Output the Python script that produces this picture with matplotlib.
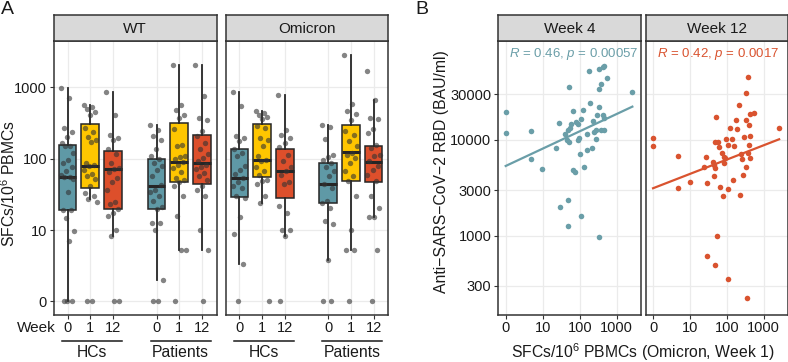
import numpy as np
import matplotlib
matplotlib.use('Agg')
import matplotlib.pyplot as plt
from matplotlib.ticker import NullLocator, FixedLocator
from matplotlib.transforms import blended_transform_factory as btf

plt.rcParams['font.family'] = ['Liberation Sans', 'DejaVu Sans']
plt.rcParams['mathtext.fontset'] = 'custom'
plt.rcParams['mathtext.rm'] = 'Liberation Sans'
plt.rcParams['mathtext.it'] = 'Liberation Sans:italic'

# ---------------- data: panel A ----------------
variants = ['WT', 'Omicron']
groups = ['HCs', 'Patients']
weeks = ['0', '1', '12']

# SFCs/10^6 PBMCs, one list per (variant, group, week)
wt_hc_w0 = [985, 713, 271, 236, 203, 167, 152, 150, 121, 97, 88, 77, 68, 60, 56, 55, 52, 34, 19, 19, 15, 9.7, 7.1, 0, 0, 0]
wt_hc_w1 = [574, 532, 499, 448, 415, 271, 236, 200, 185, 171, 88, 81, 78, 70, 62, 57, 52, 42, 33, 30, 27, 25, 0, 0]
wt_hc_w12 = [865, 415, 218, 196, 182, 135, 115, 87, 75, 71, 66, 54, 47, 37, 25, 23, 20, 17.5, 15.7, 10.2, 8.2, 0, 0]
wt_pt_w0 = [301, 257, 211, 185, 135, 111, 98, 88, 78, 70, 58, 43, 37, 34, 30, 26, 21, 20, 12.6, 12.4, 10.2, 2.0, 0, 0]
wt_pt_w1 = [2085, 574, 489, 415, 372, 261, 158, 150, 111, 105, 98, 90, 83, 75, 66, 54, 51, 47, 42, 30, 15.7, 5.35, 5.35, 0]
wt_pt_w12 = [2050, 751, 372, 346, 243, 207, 167, 135, 115, 103, 92, 83, 77, 71, 64, 58, 51, 42, 37, 30, 10.2, 5.35, 0]
om_hc_w0 = [855, 556, 207, 196, 176, 135, 121, 109, 80, 70, 62, 54, 48, 41, 39, 30, 28.4, 15.2, 8.7, 3.4, 0]
om_hc_w1 = [462, 445, 416, 390, 366, 289, 270, 196, 186, 150, 109, 97.5, 92, 76, 67, 60, 51, 48.5, 44, 30, 24, 0]
om_hc_w12 = [790, 257, 218, 196, 165, 145, 113, 92, 76, 67, 60, 47, 44, 22, 17.5, 10.2, 10, 8.2, 0]
om_pt_w0 = [302, 275, 189, 113, 105, 97.5, 87.5, 76, 67, 57, 45, 39, 25.6, 24, 20.5, 13.3, 12.3, 3.8, 0, 0]
om_pt_w1 = [2880, 593, 462, 430, 354, 243, 218, 176, 150, 121, 113, 103, 87.5, 67, 57, 48.5, 30.5, 10, 5.2, 5.2, 0]
om_pt_w12 = [1720, 674, 375, 366, 262, 230, 158, 142, 113, 109, 92, 80, 70, 60, 48.5, 30, 20.5, 15.4, 15.4, 5.2, 0]

# box statistics: (whisker low, Q1, median, Q3, whisker high)
wt_box = [[0, 19.2, 56, 155, 985], [27, 39, 80, 308, 575], [8.2, 20, 71, 129, 865],
          [2.0, 20, 41, 100, 301], [5.35, 48, 91, 317, 2085], [5.35, 45, 86, 214, 2050]]
om_box = [[3.4, 29.6, 54, 135, 855], [24, 56, 97, 304, 462], [8.2, 28.6, 68, 135, 790],
          [3.8, 23.8, 45, 86, 302], [5.2, 49, 124, 299, 2880], [15.4, 47.5, 91, 150, 674]]

points_A = {
    'WT': [wt_hc_w0, wt_hc_w1, wt_hc_w12, wt_pt_w0, wt_pt_w1, wt_pt_w12],
    'Omicron': [om_hc_w0, om_hc_w1, om_hc_w12, om_pt_w0, om_pt_w1, om_pt_w12],
}
boxes_A = {'WT': wt_box, 'Omicron': om_box}
yticks_A = [0, 10, 100, 1000]

# ---------------- data: panel B ----------------
facets_B = ['Week 4', 'Week 12']
w4_x = [0, 0, 4.9, 4.9, 9.6, 22.9, 27.6, 28.8, 48, 47, 50, 39, 45, 47, 54, 58, 65, 65, 76, 80, 90, 88, 94, 107, 104,
        108, 123, 134, 154, 161, 175, 194, 210, 234, 250, 277, 288, 283, 327, 327, 327, 342, 386, 370, 418, 444, 418,
        455, 455, 562, 2650, 50]
w4_y = [19770, 11920, 12500, 6330, 5010, 8310, 14940, 1980, 2360, 1270, 35500, 11460, 10000, 12720, 13250, 14590,
        20100, 4860, 4600, 15530, 14590, 10000, 10420, 16700, 7190, 1620, 20600, 5260, 7860, 11550, 52600, 24350,
        8310, 15800, 12120, 10240, 18240, 12720, 22300, 34100, 54800, 975, 38200, 12720, 58400, 59300, 18240, 16860,
        12720, 44100, 31990, 9600]
w12_x = [0, 0, 4.9, 4.9, 9.8, 24, 27.6, 29, 29, 42, 46, 46, 48, 48, 51, 48, 57, 54, 62, 67, 73, 78, 83, 86, 92, 94,
         106, 106, 110, 123, 136, 151, 158, 175, 190, 210, 233, 240, 265, 270, 288, 327, 327, 333, 347, 370, 385, 400,
         408, 417, 434, 434, 557, 2640]
w12_y = [10500, 8590, 6800, 3150, 3610, 5190, 6640, 3530, 618, 5930, 5440, 4200, 490, 5140, 17260, 9460, 9460, 990,
         8390, 3250, 7370, 2600, 5790, 6690, 6440, 10320, 8930, 3050, 353, 13350, 10240, 3820, 8660, 16180, 13130,
         23400, 2630, 7140, 6330, 4280, 10830, 31200, 16180, 5220, 222, 7370, 45500, 14350, 8870, 18560, 10930, 6480,
         19300, 13250]
# fitted regression line values (BAU/ml) at the smallest and largest x of each facet
fit_w4_ends = [5350, 22300]
fit_w12_ends = [3130, 10170]
cor_labels = [('0.46', '0.00057'), ('0.42', '0.0017')]
xticks_B = [0, 10, 100, 1000]
yticks_B = [300, 1000, 3000, 10000, 30000]

# ---------------- style ----------------
C_BLUE, C_YEL, C_RED = '#5F99A6', '#FFC600', '#DD4F2B'
box_cols = [C_BLUE, C_YEL, C_RED] * 2
B_cols = ['#6A9EA8', '#D9532F']
DARK = '#333333'
GRID = '#EBEBEB'
FS = 10.5
FT = 11.3

W, H = 788, 362
fig = plt.figure(figsize=(W / 100, H / 100), dpi=100)


def ax_px(x0, x1, y0, y1):
    return fig.add_axes([x0 / W, 1 - y1 / H, (x1 - x0) / W, (y1 - y0) / H])


def zero_to_one(v):
    v = np.asarray(v, dtype=float)
    return np.where(v <= 0, 1.0, v)


def style_frame(ax):
    for s in ax.spines.values():
        s.set_color(DARK)
        s.set_linewidth(1.1)
    ax.tick_params(length=3, width=0.8, color=DARK, labelsize=FS, labelcolor='#1A1A1A', pad=2)
    ax.grid(True, color=GRID, lw=0.9)
    ax.set_axisbelow(True)


def strip(x0, x1, label):
    s = ax_px(x0, x1, 15, 40.7)
    s.set_facecolor('#D9D9D9')
    s.set_xticks([]); s.set_yticks([])
    for sp in s.spines.values():
        sp.set_color(DARK); sp.set_linewidth(1.1)
    s.text(0.5, 0.47, label, ha='center', va='center', fontsize=FS + 0.5, color='#1A1A1A', transform=s.transAxes)


# ---------------- panel A ----------------
offs = np.array([-0.256, 0.0, 0.256])
positions = np.concatenate([1 + offs, 2 + offs])
A_ext = [(54, 216.5), (226, 388)]
for k, var in enumerate(variants):
    x0, x1 = A_ext[k]
    ax = ax_px(x0, x1, 40.7, 314.5)
    strip(x0, x1, var)
    style_frame(ax)
    ax.set_yscale('log')
    ax.set_ylim(0.657, 4520)
    ax.yaxis.set_major_locator(FixedLocator(zero_to_one(yticks_A)))
    ax.yaxis.set_minor_locator(NullLocator())
    if k == 0:
        ax.set_yticklabels([str(t) for t in yticks_A])
    else:
        ax.tick_params(axis='y', length=0, labelleft=False)
    ax.set_xlim(0.592, 2.418)
    ax.set_xticks(positions)
    ax.set_xticklabels(weeks * 2)

    stats = []
    for st in boxes_A[var]:
        lo, q1, med, q3, hi = zero_to_one(st)
        stats.append(dict(whislo=lo, q1=q1, med=med, q3=q3, whishi=hi, fliers=[]))
    bp = ax.bxp(stats, positions=positions, widths=0.2, patch_artist=True, showfliers=False, showcaps=False,
                boxprops=dict(edgecolor='#262626', linewidth=1.1),
                whiskerprops=dict(color='#262626', linewidth=1.3),
                medianprops=dict(color='#262626', linewidth=2.2, solid_capstyle='butt'),
                manage_ticks=False)
    for patch, c in zip(bp['boxes'], box_cols):
        patch.set_facecolor(c)
    for p, vals in zip(positions, points_A[var]):
        n = len(vals)
        jit = 0.075 * (((np.arange(n) * 0.618034) % 1.0) * 2 - 1)
        ax.scatter(p + jit, zero_to_one(vals), s=15, color='#333333', alpha=0.6, lw=0, zorder=4)

    trans = btf(ax.transData, ax.transAxes)
    for c, g in zip([1, 2], groups):
        ax.plot([c - 0.322, c + 0.353], [-0.097, -0.097], transform=trans, clip_on=False, color='#1A1A1A', lw=1.1)
        ax.text(c + 0.015, -0.139, g, transform=trans, ha='center', va='center', fontsize=FT, color='#1A1A1A')

fig.text(56 / W, 1 - 328.5 / H, 'Week', ha='right', va='center', fontsize=FS + 0.5, color='#1A1A1A')
fig.text(8.5 / W, 1 - 183 / H, 'SFCs/10$^{6}$ PBMCs', rotation=90, ha='center', va='center',
         fontsize=FT, color='#1A1A1A')

# ---------------- panel B ----------------
B_ext = [(498.3, 640.7), (645.7, 787.5)]
B_data = [(w4_x, w4_y, fit_w4_ends), (w12_x, w12_y, fit_w12_ends)]
for k, fac in enumerate(facets_B):
    x0, x1 = B_ext[k]
    ax = ax_px(x0, x1, 40.7, 314.5)
    strip(x0, x1, fac)
    style_frame(ax)
    ax.set_xscale('log'); ax.set_yscale('log')
    ax.set_xlim(0.631, 4454)
    ax.set_ylim(150, 109000)
    ax.xaxis.set_major_locator(FixedLocator(zero_to_one(xticks_B)))
    ax.xaxis.set_minor_locator(NullLocator())
    ax.set_xticklabels([str(t) for t in xticks_B])
    ax.yaxis.set_major_locator(FixedLocator(yticks_B))
    ax.yaxis.set_minor_locator(NullLocator())
    if k == 0:
        ax.set_yticklabels([str(t) for t in yticks_B])
    else:
        ax.tick_params(axis='y', length=0, labelleft=False)
    xs, ys, ends = B_data[k]
    xv = zero_to_one(xs)
    yv = np.asarray(ys, dtype=float)
    ax.scatter(xv, yv, s=16, color=B_cols[k], lw=0, zorder=3)
    ax.plot([xv.min(), xv.max()], ends, color=B_cols[k], lw=1.6, zorder=4)
    r, p = cor_labels[k]
    ax.text(0.078, 0.951, '$R$ = %s, $p$ = %s' % (r, p), transform=ax.transAxes, ha='left', va='center',
            fontsize=FS - 1, color=B_cols[k])

fig.text(442 / W, 1 - 172 / H, 'Anti\u2212SARS\u2212CoV\u22122 RBD (BAU/ml)', rotation=90, ha='center', va='center',
         fontsize=FT, color='#1A1A1A')
fig.text(642.9 / W, 1 - 351.7 / H, 'SFCs/10$^{6}$ PBMCs (Omicron, Week 1)', ha='center', va='center',
         fontsize=FT, color='#1A1A1A')

fig.text(1 / W, 1 - 1 / H, 'A', ha='left', va='top', fontsize=14, color='#1A1A1A')
fig.text(415 / W, 1 - 1 / H, 'B', ha='left', va='top', fontsize=14, color='#1A1A1A')

fig.savefig('out.png', dpi=100)
